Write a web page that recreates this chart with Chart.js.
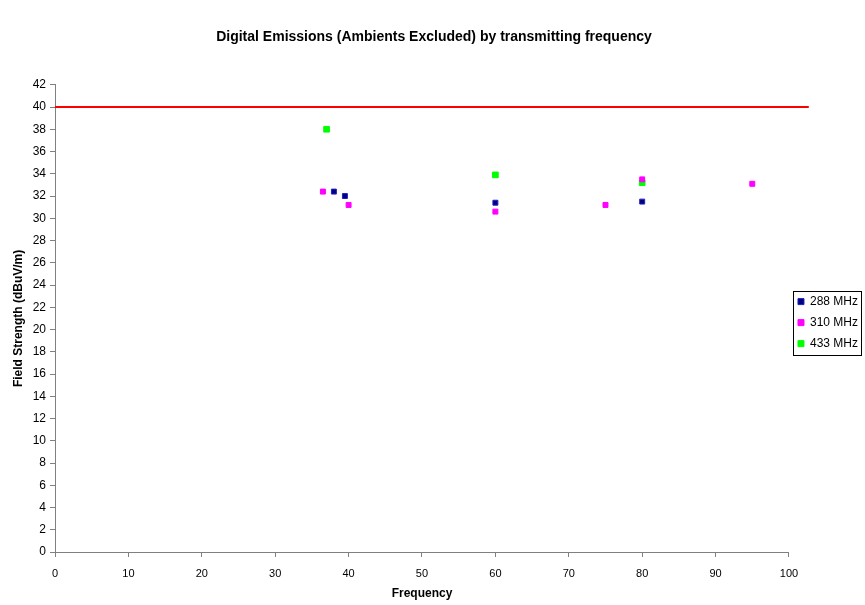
<!DOCTYPE html>
<html>
<head>
<meta charset="utf-8">
<script src="https://cdn.jsdelivr.net/npm/chart.js@4.4.0/dist/chart.umd.min.js"></script>
<style>
  body { margin: 0; background: #fff; }
  #wrap { width: 865px; height: 605px; }
</style>
</head>
<body>
<div id="wrap"><canvas id="emChart"></canvas></div>
<script>
// frequency (x) / field strength (y) per transmitting frequency
const freq288 = [38, 39.5, 60, 80];
const level288 = [32.4, 32, 31.4, 31.5];

const freq310 = [36.5, 40, 60, 75, 80, 95];
const level310 = [32.4, 31.2, 30.6, 31.2, 33.5, 33.1];

const freq433 = [37, 60, 80];
const level433 = [38, 33.9, 33.2];

const limitX = [0, 102.7];
const limitY = [40, 40];

const seriesNames = ['288 MHz', '310 MHz', '433 MHz'];

function toPoints(xs, ys) {
  return xs.map((x, i) => ({ x: x, y: ys[i] }));
}

// box around the legend items, like the excel one
const legendBorder = {
  id: 'legendBorder',
  afterDraw(chart) {
    const lg = chart.legend;
    if (!lg || !lg.legendHitBoxes || !lg.legendHitBoxes.length) return;
    const boxes = lg.legendHitBoxes;
    let l = Infinity, t = Infinity, r = -Infinity, b = -Infinity;
    boxes.forEach(h => {
      l = Math.min(l, h.left);
      t = Math.min(t, h.top);
      r = Math.max(r, h.left + h.width);
      b = Math.max(b, h.top + h.height);
    });
    const ctx = chart.ctx;
    ctx.save();
    ctx.strokeStyle = '#000';
    ctx.lineWidth = 1;
    ctx.strokeRect(Math.round(l - 5) + 0.5, Math.round(t - 5) + 0.5, Math.round(r - l + 8), Math.round(b - t + 10));
    ctx.restore();
  }
};

Chart.defaults.font.family = 'Arial, "Liberation Sans", sans-serif';
Chart.defaults.color = '#000';

new Chart(document.getElementById('emChart'), {
  type: 'scatter',
  data: {
    datasets: [
      {
        label: seriesNames[0],
        data: toPoints(freq288, level288),
        backgroundColor: '#000080',
        borderColor: '#2020c0',
        borderWidth: 1,
        pointStyle: 'rect',
        pointRadius: 3.5
      },
      {
        label: seriesNames[1],
        data: toPoints(freq310, level310),
        backgroundColor: '#ff00ff',
        borderColor: '#ff00ff',
        borderWidth: 1,
        pointStyle: 'rect',
        pointRadius: 3.5
      },
      {
        label: seriesNames[2],
        data: toPoints(freq433, level433),
        backgroundColor: '#00ff00',
        borderColor: '#00ff00',
        borderWidth: 1,
        pointStyle: 'rect',
        pointRadius: 4
      },
      {
        label: 'limit',
        type: 'line',
        data: toPoints(limitX, limitY),
        borderColor: '#ff0000',
        borderWidth: 2,
        pointRadius: 0,
        clip: false
      }
    ]
  },
  options: {
    responsive: true,
    maintainAspectRatio: false,
    animation: false,
    layout: { padding: { left: 0, right: -3, top: 0, bottom: 0 } },
    plugins: {
      title: {
        display: true,
        text: 'Digital Emissions (Ambients Excluded) by transmitting frequency',
        font: { size: 14, weight: 'bold' },
        padding: { top: 29, bottom: 39 }
      },
      legend: {
        position: 'right',
        // empty title only pushes the items down a bit
        title: { display: true, text: '', font: { size: 1 }, padding: { top: 20, bottom: 19 } },
        labels: {
          usePointStyle: true,
          boxWidth: 6,
          boxHeight: 6,
          padding: 9,
          font: { size: 12 },
          filter: item => item.text !== 'limit'
        }
      },
      tooltip: { enabled: false }
    },
    scales: {
      x: {
        type: 'linear',
        min: 0,
        max: 100,
        ticks: { stepSize: 10, font: { size: 11 }, padding: 10 },
        grid: { drawOnChartArea: false, drawTicks: true, tickLength: 5, color: '#808080' },
        border: { color: '#808080', width: 1 },
        title: { display: true, text: 'Frequency', font: { size: 12, weight: 'bold' }, padding: { top: 4, bottom: 4 } },
        afterFit: s => { s.height = 53; }
      },
      y: {
        min: 0,
        max: 42,
        ticks: { stepSize: 2, font: { size: 12 }, padding: 4 },
        grid: { drawOnChartArea: false, drawTicks: true, tickLength: 5, color: '#808080' },
        border: { color: '#808080', width: 1 },
        title: { display: true, text: 'Field Strength (dBuV/m)', font: { size: 12, weight: 'bold' }, padding: { top: 11, bottom: 0 } },
        afterFit: s => { s.width = 55; }
      }
    }
  },
  plugins: [legendBorder]
});
</script>
</body>
</html>
